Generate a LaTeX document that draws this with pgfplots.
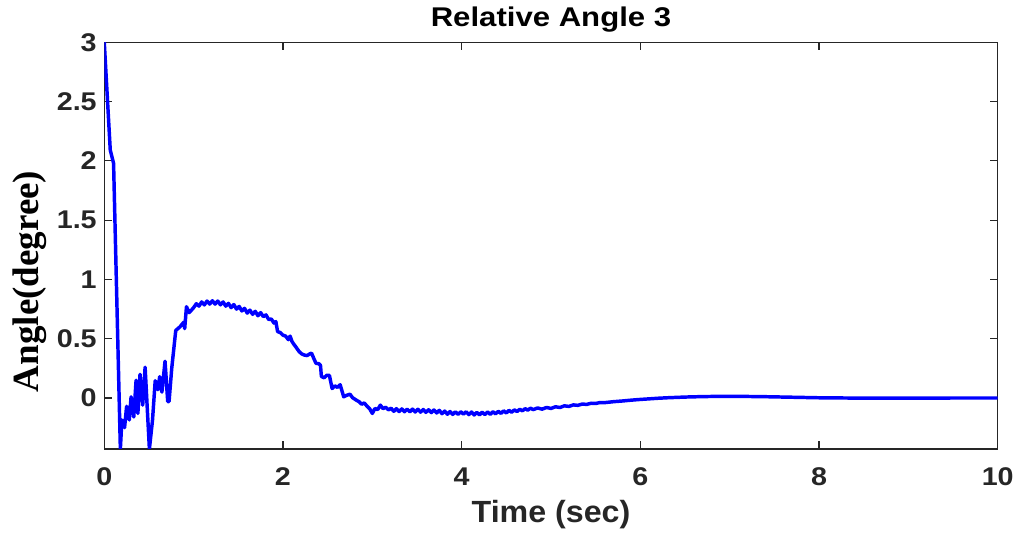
\documentclass[border=0pt]{standalone}
\usepackage{fontspec}
\setmainfont{Liberation Sans}
\newfontfamily\titlef{Liberation Sans}[FakeStretch=1.15]
\newfontfamily\tickf{Liberation Sans}[FakeStretch=1.12]
\newfontfamily\xlabf{Liberation Sans}[FakeStretch=1.05]
\newfontfamily\ylabf{Liberation Serif}
\usepackage{pgfplots}
\pgfplotsset{compat=1.18}
\definecolor{axgray}{HTML}{262626}
\begin{document}
\begin{tikzpicture}
\useasboundingbox (-78.2pt,-66pt) rectangle (685.2pt,336.7pt);
\begin{axis}[
  at={(0,0)}, anchor=south west,
  width=670pt, height=305pt, scale only axis,
  xmin=0, xmax=10, ymin=-0.43, ymax=3,
  xtick={0,2,4,6,8,10}, ytick={0,0.5,1,1.5,2,2.5,3},
  tick align=inside, major tick length=6pt,
  axis line style={axgray, line width=0.9pt},
  every tick/.style={axgray, line width=0.9pt},
  /pgf/number format/assume math mode=true,
  ticklabel style={color=axgray, font=\tickf\bfseries\fontsize{19.2}{20}\selectfont},
  xticklabel style={anchor=base, yshift=-27pt, inner sep=0pt},
  yticklabel style={anchor=east, xshift=-5.5pt, inner sep=0pt},
  title={Relative Angle 3},
  title style={at={(rel axis cs:0.5,1.0384)}, anchor=base, yshift=-6pt, color=black, font=\titlef\bfseries\fontsize{20.3}{22}\selectfont},
  xlabel={Time (sec)},
  xlabel style={at={(rel axis cs:0.5,-0.1795)}, anchor=base, color=axgray, font=\xlabf\bfseries\fontsize{23}{26}\selectfont},
  ylabel={Angle(degree)},
  ylabel style={at={(rel axis cs:-0.0739,0.412)}, anchor=base, color=black, font=\ylabf\bfseries\fontsize{27.75}{30}\selectfont},
]
\addplot[color=blue, mark=none, line width=2.6pt, line join=round] coordinates {
(0,3.0) (0.067,2.09) (0.104,1.98) (0.18,-0.43) (0.197,-0.185) (0.227,-0.25)
(0.25,-0.07) (0.28,-0.185) (0.30,0.01) (0.33,-0.16) (0.356,0.15) (0.376,-0.13)
(0.40,0.20) (0.43,-0.06) (0.457,0.26) (0.505,-0.43) (0.54,-0.185) (0.57,0.146)
(0.60,0.07) (0.62,0.18) (0.645,0.05) (0.68,0.31) (0.71,-0.03) (0.725,-0.03)
(0.755,0.25) (0.80,0.57) (0.847,0.60) (0.89,0.64) (0.90,0.585) (0.92,0.77)
(0.95,0.72) (0.98,0.745)
(1.00,0.762) (1.03,0.795) (1.06,0.775) (1.09,0.810) (1.12,0.785) (1.15,0.818)
(1.18,0.792) (1.21,0.820) (1.24,0.792) (1.27,0.818) (1.30,0.786) (1.33,0.810)
(1.36,0.775) (1.39,0.798) (1.42,0.762) (1.45,0.788) (1.48,0.750) (1.51,0.772)
(1.54,0.734) (1.57,0.756) (1.60,0.716) (1.63,0.741) (1.66,0.706) (1.69,0.731)
(1.72,0.694) (1.75,0.720) (1.78,0.686) (1.81,0.701) (1.84,0.662) (1.87,0.666)
(1.90,0.632) (1.92,0.645) (1.94,0.560) (1.97,0.552) (2.00,0.530) (2.03,0.522)
(2.06,0.492) (2.08,0.522) (2.10,0.478) (2.12,0.455) (2.15,0.425) (2.18,0.392)
(2.21,0.372) (2.24,0.362) (2.27,0.358) (2.30,0.372) (2.32,0.378) (2.35,0.325)
(2.37,0.292) (2.40,0.290) (2.42,0.275) (2.43,0.182) (2.46,0.170) (2.49,0.192)
(2.52,0.190) (2.55,0.080) (2.58,0.102) (2.61,0.090) (2.64,0.112) (2.68,0.010)
(2.71,0.022) (2.75,0.032) (2.78,0.002) (2.82,-0.018) (2.85,-0.030) (2.88,-0.052)
(2.91,-0.042) (2.94,-0.068) (2.97,-0.090) (3.00,-0.130) (3.03,-0.088) (3.06,-0.098)
(3.09,-0.060) (3.12,-0.090) (3.15,-0.078) (3.18,-0.100) (3.21,-0.086) (3.24,-0.112)
(3.27,-0.090) (3.30,-0.114) (3.33,-0.092) (3.36,-0.116) (3.39,-0.094) (3.42,-0.116)
(3.45,-0.094) (3.48,-0.118) (3.51,-0.095) (3.54,-0.119) (3.57,-0.097) (3.60,-0.121)
(3.63,-0.099) (3.66,-0.123) (3.69,-0.101) (3.72,-0.126) (3.75,-0.104) (3.78,-0.132)
(3.81,-0.110) (3.84,-0.137) (3.87,-0.114) (3.90,-0.138) (3.93,-0.116) (3.96,-0.138)
(3.99,-0.116) (4.02,-0.136) (4.05,-0.116) (4.08,-0.140) (4.11,-0.118) (4.14,-0.143)
(4.17,-0.121) (4.20,-0.142) (4.23,-0.120) (4.26,-0.140) (4.29,-0.118) (4.32,-0.138)
(4.35,-0.116) (4.38,-0.134) (4.41,-0.112) (4.44,-0.130) (4.47,-0.108) (4.50,-0.126)
(4.53,-0.104) (4.56,-0.120) (4.59,-0.100) (4.62,-0.114) (4.65,-0.095) (4.68,-0.108)
(4.71,-0.090) (4.74,-0.102) (4.77,-0.086) (4.80,-0.098) (4.85,-0.084) (4.90,-0.094)
(4.95,-0.080) (5.00,-0.088) (5.05,-0.074) (5.10,-0.080) (5.15,-0.066) (5.20,-0.071)
(5.25,-0.058) (5.30,-0.062) (5.35,-0.051) (5.40,-0.054) (5.45,-0.044) (5.50,-0.046)
(5.55,-0.038) (5.60,-0.039) (5.70,-0.031) (5.80,-0.025) (5.90,-0.018) (6.00,-0.012)
(6.10,-0.007) (6.20,-0.002) (6.30,0.002) (6.40,0.005) (6.50,0.008) (6.60,0.010)
(6.70,0.012) (6.80,0.013) (6.90,0.014) (7.00,0.014) (7.20,0.013) (7.40,0.011)
(7.60,0.008) (7.80,0.005) (8.00,0.002) (8.30,0.000) (8.60,-0.001) (9.00,-0.001)
(9.50,0.000) (10.00,0.000)
};
\end{axis}
\end{tikzpicture}
\end{document}
